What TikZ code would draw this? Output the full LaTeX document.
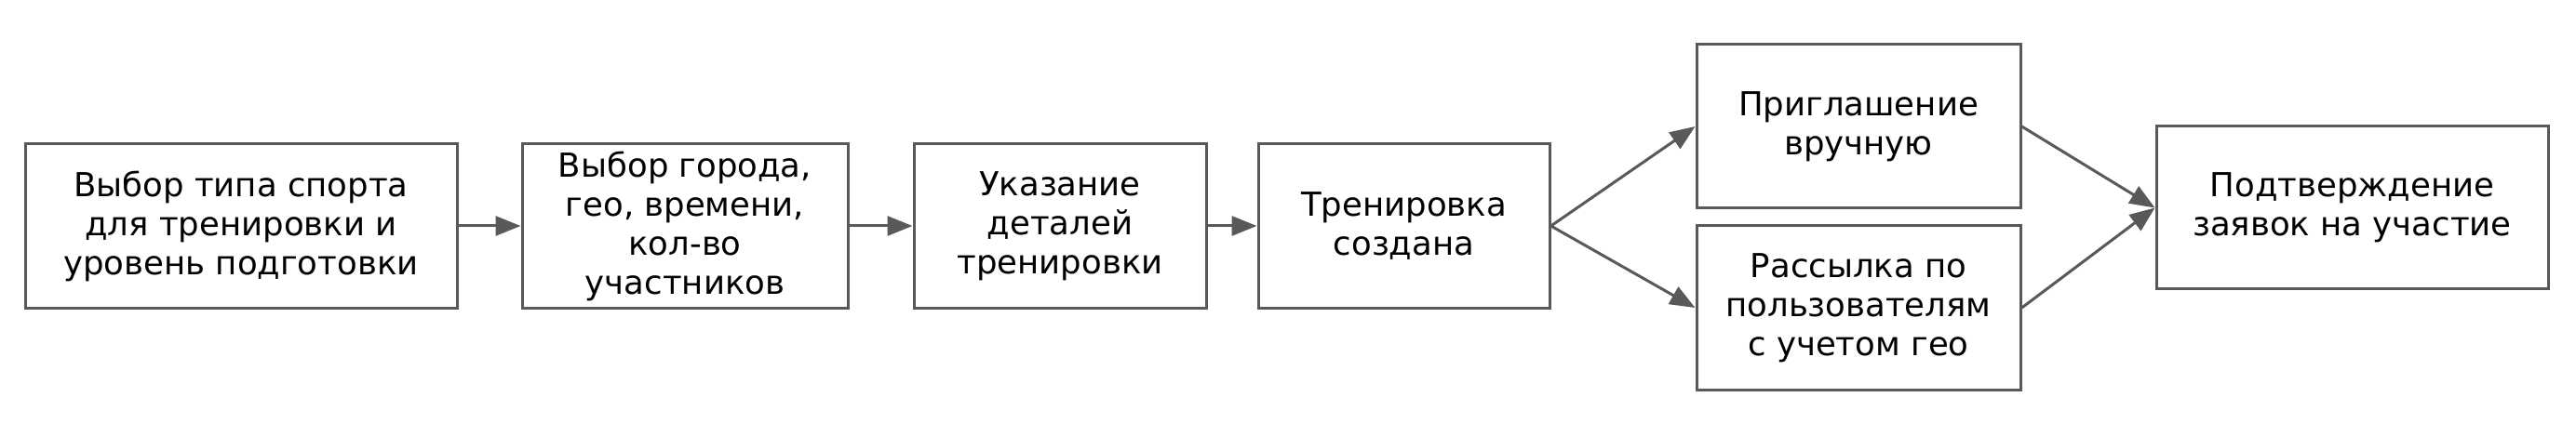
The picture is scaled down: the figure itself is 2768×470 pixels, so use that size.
\documentclass[tikz,border=0pt]{standalone}
\usepackage{fontspec}
\setmainfont{DejaVu Sans}
\usetikzlibrary{arrows.meta}
\definecolor{linegray}{HTML}{595959}
\tikzset{
  box/.style={draw=linegray, line width=3pt, fill=white, rectangle, align=center,
    inner sep=0pt, font=\fontsize{35.5}{42}\selectfont, text=black},
  conn/.style={draw=linegray, line width=3pt, -{Triangle[length=27pt,width=21pt]}},
}
\begin{document}
\begin{tikzpicture}[x=1pt,y=-1pt]
\useasboundingbox (0,0) rectangle (2768,470);
\node[box, minimum width=464pt, minimum height=176pt] (b1) at (259,243)
  {Выбор типа спорта\\для тренировки и\\уровень подготовки};
\node[box, minimum width=350pt, minimum height=176pt] (b2) at (736,243)
  {Выбор города,\\гео, времени,\\кол-во\\участников};
\node[box, minimum width=314pt, minimum height=176pt] (b3) at (1139,243)
  {Указание\\деталей\\тренировки};
\node[box, minimum width=313pt, minimum height=176pt] (b4) at (1508.5,243)
  {Тренировка\\создана};
\node[box, minimum width=348pt, minimum height=176pt] (b5) at (1997,136)
  {Приглашение\\вручную};
\node[box, minimum width=348pt, minimum height=176pt] (b6) at (1997,331)
  {Рассылка по\\пользователям\\с учетом гео};
\node[box, minimum width=421pt, minimum height=175pt] (b7) at (2527.5,223.5)
  {Подтверждение\\заявок на участие};
\draw[conn] (b1.east) -- (b2.west);
\draw[conn] (b2.east) -- (b3.west);
\draw[conn] (b3.east) -- (b4.west);
\draw[conn] (b4.east) -- (b5.west);
\draw[conn] (b4.east) -- (b6.west);
\draw[conn] (b5.east) -- (b7.west);
\draw[conn] (b6.east) -- (b7.west);
\end{tikzpicture}
\end{document}
